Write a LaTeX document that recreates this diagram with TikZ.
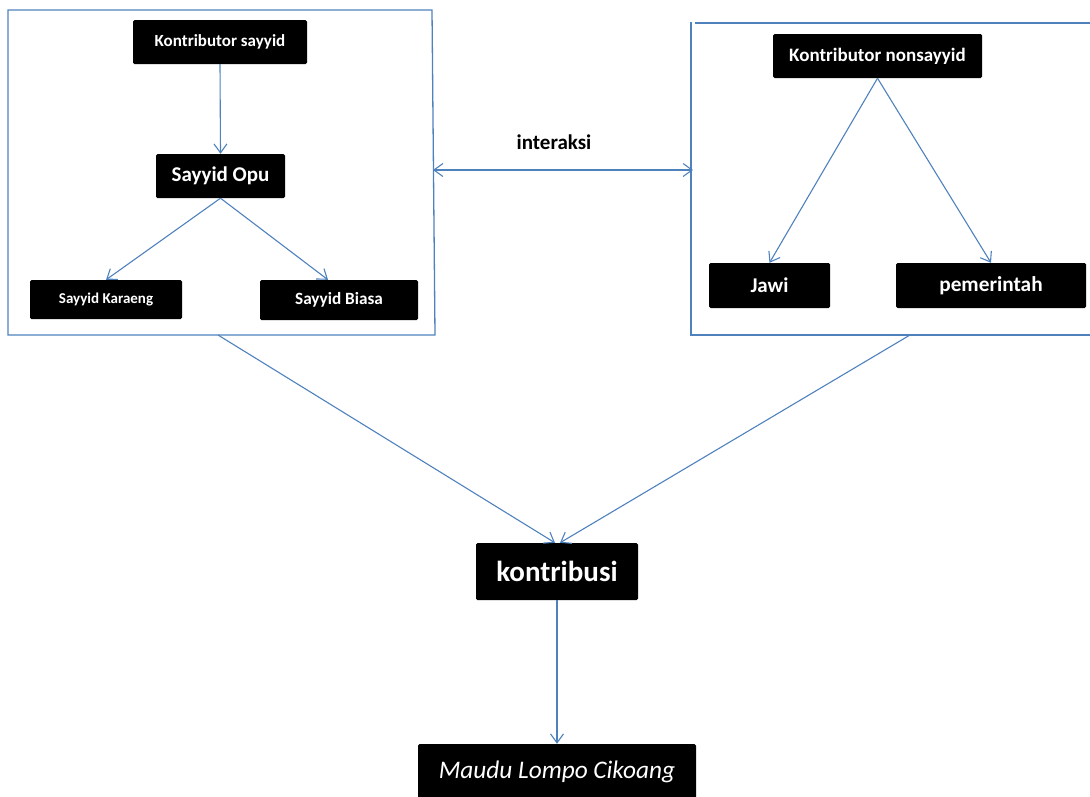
\documentclass[tikz,border=0pt]{standalone}
\usepackage{fontspec}
\setmainfont{Carlito}
\usetikzlibrary{arrows.meta,calc}
\definecolor{lineblue}{HTML}{4F81BD}
\tikzset{
  blk/.style={fill=black, rounded corners=1.5pt, text=white, font=\bfseries, inner sep=0pt, align=center},
  conn/.style={draw=lineblue, line width=1.1pt, -{Straight Barb[length=9pt,width=13pt,line width=1.1pt]}},
  frame/.style={draw=lineblue, line width=1.3pt},
}
\begin{document}
\begin{tikzpicture}[x=1pt,y=-1pt]
\useasboundingbox (0,0) rectangle (1090,796);
% frames
\draw[frame] (8,10) -- (432,10) -- (435,335) -- (8,335) -- cycle;
\draw[frame] (695,23) -- (1092,23);
\draw[frame] (691,22) -- (691,335) -- (1092,335);
% nodes
\node[blk, minimum width=174, minimum height=44, font=\bfseries\fontsize{17}{19}\selectfont] (ks) at (220,42) {Kontributor sayyid};
\node[blk, minimum width=129, minimum height=44, font=\bfseries\fontsize{21}{23}\selectfont] (so) at (220.5,176) {Sayyid Opu};
\node[blk, minimum width=152, minimum height=39, font=\bfseries\fontsize{15}{17}\selectfont] (sk) at (106,299.5) {Sayyid Karaeng};
\node[blk, minimum width=158, minimum height=40, font=\bfseries\fontsize{17.2}{19}\selectfont] (sb) at (339,300) {Sayyid Biasa};
\node[blk, minimum width=209, minimum height=44, font=\bfseries\fontsize{19}{21}\selectfont] (kn) at (877.5,56) {Kontributor nonsayyid};
\node[blk, minimum width=121, minimum height=45, font=\bfseries\fontsize{21}{23}\selectfont] (jw) at (769.5,285.5) {Jawi};
\node[blk, minimum width=190, minimum height=45, font=\bfseries\fontsize{21.3}{23}\selectfont] (pm) at (991,285.5) {pemerintah};
\node[blk, minimum width=162, minimum height=57, font=\bfseries\fontsize{29}{32}\selectfont] (kb) at (557,571.5) {kontribusi};
\node[blk, minimum width=278, minimum height=56, font=\itshape\fontsize{25.3}{28}\selectfont] (ml) at (557,772) {Maudu Lompo Cikoang};
\node[font=\bfseries\fontsize{21}{23}\selectfont, inner sep=0pt] (ia) at (554,142) {interaksi};
% coordinates
\coordinate (lb) at (218,335);
\coordinate (rb) at (910,335);
\coordinate (il) at (433,170);
\coordinate (ir) at (693,170);
% connectors
\draw[conn] (ks.south) -- (so.north);
\draw[conn] (so.south) -- (sk.north);
\draw[conn] (so.south) -- ($(sb.north)+(-11,0)$);
\draw[conn] (kn.south) -- (jw.north);
\draw[conn] (kn.south) -- (pm.north);
\draw[conn,{Straight Barb[length=9pt,width=13pt,line width=1.1pt]}-{Straight Barb[length=9pt,width=13pt,line width=1.1pt]}] (il) -- (ir);
\draw[conn] (lb) -- ($(kb.north)+(-2,0)$);
\draw[conn] (rb) -- ($(kb.north)+(3,0)$);
\draw[conn] (kb.south) -- (ml.north);
\end{tikzpicture}
\end{document}
